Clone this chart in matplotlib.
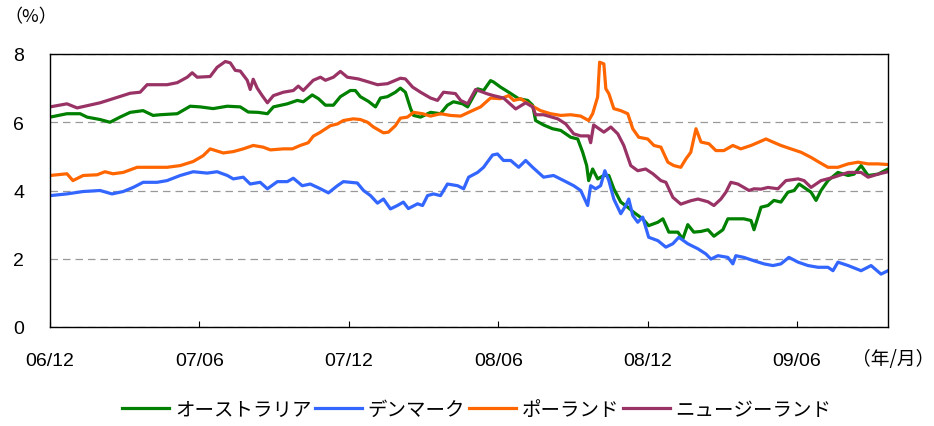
import matplotlib
matplotlib.use("Agg")
import matplotlib.pyplot as plt

plt.rcParams['font.family'] = ['Liberation Sans', 'Noto Sans CJK JP', 'DejaVu Sans']

# x values: months elapsed since Dec 2006
au_x = [0, 0.68, 1.21, 1.49, 2.01, 2.41, 2.81, 3.22, 3.74, 4.14, 4.42, 5.11, 5.63, 6.03, 6.55, 7.12,
        7.64, 7.96, 8.36, 8.73, 8.97, 9.53, 9.93, 10.17, 10.53, 10.78, 11.06, 11.38, 11.66, 12.06,
        12.26, 12.46, 12.79, 13.07, 13.27, 13.55, 13.87, 14.07, 14.27, 14.48, 14.60, 14.88, 15.28,
        15.68, 15.96, 16.20, 16.57, 16.77, 17.17, 17.41, 17.69, 17.81, 18.09, 18.42, 18.82, 19.18,
        19.38, 19.50, 19.82, 20.18, 20.51, 20.91, 21.19, 21.39, 21.55, 21.63, 21.79, 21.99, 22.24,
        22.44, 22.64, 22.92, 23.20, 23.44, 23.80, 24.04, 24.41, 24.61, 24.85, 25.21, 25.41, 25.61,
        25.85, 26.14, 26.42, 26.66, 27.02, 27.22, 27.46, 27.86, 28.15, 28.27, 28.55, 28.83, 29.07,
        29.35, 29.63, 29.88, 30.08, 30.28, 30.56, 30.76, 30.96, 31.24, 31.64, 32.05, 32.29, 32.57,
        32.85, 33.25, 33.65]
au_y = [6.15, 6.25, 6.25, 6.15, 6.08, 6.00, 6.15, 6.29, 6.34, 6.20, 6.22, 6.25, 6.47, 6.45, 6.40, 6.47,
        6.45, 6.30, 6.29, 6.25, 6.45, 6.54, 6.64, 6.60, 6.80, 6.69, 6.50, 6.50, 6.75, 6.93,
        6.93, 6.75, 6.61, 6.45, 6.71, 6.75, 6.88, 7.00, 6.88, 6.40, 6.20, 6.15, 6.29,
        6.25, 6.50, 6.60, 6.54, 6.45, 6.98, 6.93, 7.22, 7.18, 7.03, 6.88, 6.69, 6.64,
        6.50, 6.05, 5.92, 5.81, 5.76, 5.56, 5.51, 5.12, 4.73, 4.29, 4.63, 4.34, 4.44,
        4.44, 4.05, 3.66, 3.51, 3.36, 3.17, 2.97, 3.07, 3.17, 2.78, 2.78, 2.58, 3.00,
        2.78, 2.80, 2.85, 2.66, 2.85, 3.17, 3.17, 3.17, 3.12, 2.85, 3.51, 3.56, 3.71,
        3.66, 3.95, 4.00, 4.19, 4.09, 3.95, 3.71, 4.00, 4.29, 4.53, 4.44, 4.48, 4.73,
        4.44, 4.48, 4.63]

dk_x = [0, 0.68, 1.33, 2.01, 2.49, 2.94, 3.34, 3.74, 4.30, 4.70, 5.23, 5.75, 6.31, 6.71, 7.12, 7.36,
        7.76, 8.04, 8.44, 8.73, 9.13, 9.53, 9.77, 10.13, 10.45, 10.86, 11.18, 11.54, 11.78, 12.34,
        12.59, 12.87, 13.15, 13.39, 13.67, 13.95, 14.19, 14.39, 14.76, 14.96, 15.16, 15.40, 15.68,
        15.96, 16.37, 16.61, 16.81, 17.17, 17.41, 17.77, 17.97, 18.21, 18.50, 18.82, 19.10, 19.38,
        19.82, 20.22, 20.63, 21.03, 21.31, 21.59, 21.71, 21.91, 22.11, 22.28, 22.44, 22.64, 22.92,
        23.12, 23.24, 23.40, 23.60, 23.80, 24.04, 24.41, 24.73, 25.01, 25.25, 25.61, 26.02, 26.34,
        26.54, 26.82, 27.22, 27.42, 27.54, 27.86, 28.27, 28.67, 29.03, 29.35, 29.67, 30.04, 30.44,
        30.84, 31.24, 31.44, 31.64, 32.05, 32.57, 32.97, 33.37, 33.65]
dk_y = [3.85, 3.90, 3.97, 4.00, 3.90, 3.97, 4.09, 4.24, 4.24, 4.29, 4.44, 4.55, 4.51, 4.55, 4.44, 4.34,
        4.39, 4.19, 4.24, 4.05, 4.26, 4.26, 4.36, 4.14, 4.19, 4.05, 3.93, 4.14, 4.26, 4.22,
        4.00, 3.85, 3.63, 3.75, 3.46, 3.56, 3.66, 3.47, 3.61, 3.56, 3.85, 3.90, 3.85,
        4.19, 4.14, 4.05, 4.39, 4.53, 4.68, 5.04, 5.07, 4.88, 4.88, 4.68, 4.88, 4.68,
        4.39, 4.44, 4.29, 4.14, 4.00, 3.56, 4.14, 4.05, 4.14, 4.58, 4.29, 3.75, 3.32,
        3.56, 3.75, 3.27, 3.07, 3.22, 2.63, 2.53, 2.34, 2.44, 2.63, 2.44, 2.29, 2.14,
        1.99, 2.09, 2.04, 1.85, 2.09, 2.04, 1.94, 1.85, 1.80, 1.85, 2.04, 1.90, 1.80,
        1.75, 1.75, 1.65, 1.90, 1.80, 1.65, 1.80, 1.55, 1.65]

pl_x = [0, 0.68, 0.92, 1.33, 1.89, 2.21, 2.53, 2.94, 3.50, 4.02, 4.70, 5.23, 5.75, 6.15, 6.43, 6.96,
        7.36, 7.76, 8.16, 8.56, 8.85, 9.37, 9.73, 10.05, 10.37, 10.57, 10.86, 11.26, 11.54, 11.78,
        12.18, 12.46, 12.75, 12.99, 13.39, 13.59, 13.87, 14.07, 14.35, 14.60, 14.96, 15.28, 15.68,
        16.08, 16.49, 16.81, 17.29, 17.69, 18.09, 18.42, 18.62, 18.90, 19.30, 19.70, 20.10, 20.51,
        20.91, 21.31, 21.63, 21.79, 21.99, 22.07, 22.24, 22.32, 22.44, 22.64, 22.92, 23.20, 23.40,
        23.64, 24.00, 24.25, 24.53, 24.81, 25.05, 25.33, 25.53, 25.73, 25.94, 26.14, 26.46, 26.74,
        27.06, 27.42, 27.74, 28.15, 28.47, 28.75, 29.03, 29.35, 29.75, 30.16, 30.56, 30.88, 31.24,
        31.64, 32.05, 32.45, 32.85, 33.25, 33.65]
pl_y = [4.44, 4.49, 4.29, 4.44, 4.46, 4.55, 4.49, 4.53, 4.68, 4.68, 4.68, 4.73, 4.85, 5.02, 5.22, 5.10,
        5.14, 5.22, 5.32, 5.27, 5.19, 5.22, 5.22, 5.32, 5.40, 5.59, 5.71, 5.90, 5.95, 6.05,
        6.10, 6.08, 6.00, 5.86, 5.69, 5.71, 5.90, 6.12, 6.15, 6.29, 6.25, 6.18, 6.25,
        6.20, 6.18, 6.29, 6.45, 6.71, 6.69, 6.78, 6.64, 6.69, 6.50, 6.34, 6.25, 6.20,
        6.22, 6.18, 6.05, 6.25, 6.74, 7.76, 7.71, 6.98, 6.84, 6.40, 6.34, 6.25, 5.81,
        5.56, 5.51, 5.32, 5.27, 4.83, 4.73, 4.68, 4.92, 5.12, 5.81, 5.42, 5.37, 5.17,
        5.17, 5.32, 5.22, 5.32, 5.42, 5.51, 5.42, 5.32, 5.22, 5.12, 4.97, 4.83, 4.68,
        4.68, 4.78, 4.83, 4.78, 4.78, 4.76]

nz_x = [0, 0.68, 1.09, 2.01, 2.53, 3.22, 3.62, 3.90, 4.70, 5.11, 5.51, 5.71, 5.91, 6.43, 6.71, 7.04,
        7.24, 7.44, 7.64, 7.92, 8.04, 8.16, 8.32, 8.52, 8.73, 8.97, 9.37, 9.77, 9.97, 10.17,
        10.57, 10.86, 11.06, 11.38, 11.66, 11.94, 12.38, 12.75, 13.15, 13.55, 14.07, 14.27, 14.56,
        14.88, 15.28, 15.56, 15.80, 16.28, 16.49, 16.77, 17.09, 17.57, 17.81, 18.21, 18.70, 19.10,
        19.38, 19.50, 19.82, 20.39, 20.71, 21.03, 21.31, 21.63, 21.71, 21.83, 22.24, 22.52, 22.80,
        23.04, 23.32, 23.60, 23.92, 24.21, 24.53, 24.73, 25.01, 25.33, 25.73, 26.02, 26.42, 26.66,
        26.94, 27.14, 27.34, 27.62, 27.86, 28.07, 28.27, 28.55, 28.83, 29.23, 29.55, 30.04, 30.28,
        30.56, 30.96, 31.48, 32.05, 32.57, 32.85, 33.25, 33.65]
nz_y = [6.45, 6.54, 6.42, 6.57, 6.69, 6.85, 6.88, 7.10, 7.10, 7.16, 7.32, 7.45, 7.32, 7.34, 7.61, 7.78,
        7.74, 7.52, 7.50, 7.23, 6.96, 7.26, 7.00, 6.78, 6.57, 6.78, 6.88, 6.93, 7.06, 6.93,
        7.23, 7.32, 7.23, 7.32, 7.49, 7.32, 7.27, 7.19, 7.10, 7.13, 7.29, 7.27, 7.03,
        6.88, 6.71, 6.64, 6.88, 6.84, 6.64, 6.54, 6.96, 6.83, 6.78, 6.71, 6.39, 6.57,
        6.45, 6.22, 6.22, 6.10, 5.95, 5.66, 5.60, 5.60, 5.40, 5.92, 5.71, 5.86, 5.66,
        5.32, 4.73, 4.58, 4.63, 4.49, 4.29, 4.24, 3.80, 3.60, 3.70, 3.75, 3.67, 3.56,
        3.75, 3.95, 4.24, 4.19, 4.09, 4.00, 4.05, 4.04, 4.09, 4.05, 4.29, 4.34, 4.29,
        4.09, 4.29, 4.39, 4.53, 4.53, 4.39, 4.48, 4.55]

series_names = ['オーストラリア', 'デンマーク', 'ポーランド', 'ニュージーランド']
series_colors = ['#008000', '#3366FF', '#FF6600', '#993366']
tick_pos = [0, 6, 12, 18, 24, 30]
tick_labels = ['06/12', '07/06', '07/12', '08/06', '08/12', '09/06']
y_ticks = [0, 2, 4, 6, 8]

fig = plt.figure(figsize=(9.34, 4.27), dpi=100)
ax = fig.add_axes([50/934, 1-328/427, 838/934, 273/427])

data = [(au_x, au_y), (dk_x, dk_y), (pl_x, pl_y), (nz_x, nz_y)]
for (xs, ys), name, col in zip(data, series_names, series_colors):
    ax.plot(xs, ys, color=col, lw=2.3, label=name, solid_joinstyle='round')

ax.set_xlim(0, 33.65)
ax.set_ylim(0, 8)
ax.set_yticks(y_ticks)
ax.set_yticklabels([str(v) for v in y_ticks])
ax.set_xticks(tick_pos)
ax.set_xticklabels(tick_labels)
ax.tick_params(axis='y', length=0, pad=26/1.389, labelsize=14)
ax.tick_params(axis='x', direction='in', length=4, width=0.8, pad=25/1.389, labelsize=14)
ax.yaxis.grid(True, linestyle=(0, (6, 4)), color='#999999', lw=0.9)
ax.set_axisbelow(True)
for s in ax.spines.values():
    s.set_color('black')
    s.set_linewidth(1.0)

fig.text(31/934, 1-17/427, '（%）', ha='center', va='center', fontsize=13,
         family=['Noto Sans CJK JP', 'DejaVu Sans'])
fig.text(893/934, 1-359/427, '（年/月）', ha='center', va='center', fontsize=13.5,
         family=['Noto Sans CJK JP', 'DejaVu Sans'])

fig.legend(loc='center', bbox_to_anchor=(477/934, 1-411/427), ncol=4, frameon=False,
           fontsize=14, handlelength=2.4, handletextpad=0.3, columnspacing=0.2,
           borderaxespad=0)

fig.savefig('out.png', dpi=100)
